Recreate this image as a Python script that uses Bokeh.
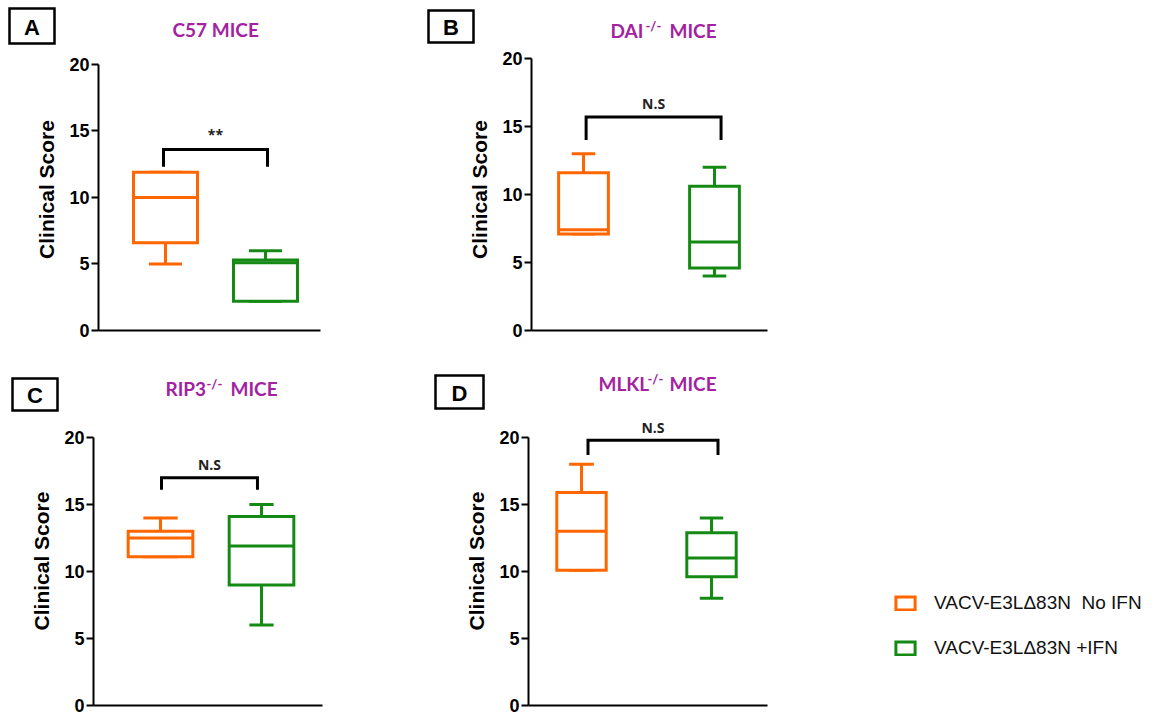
from bokeh.plotting import figure
from bokeh.layouts import row, column
from bokeh.models import Range1d, FixedTicker, Legend, LegendItem, ColumnDataSource
from bokeh.core.properties import value
from bokeh.embed import file_html
from bokeh.resources import INLINE

# ---------------- data ----------------
groups = ["VACV-E3L\u039483N  No IFN", "VACV-E3L\u039483N +IFN"]
colors = ["#FF6600", "#148A14"]
y_ticks = [0, 5, 10, 15, 20]

# Panel A: C57 mice
a_min = [5.0, 2.2]
a_q1 = [6.6, 2.2]
a_med = [10.0, 5.1]
a_q3 = [11.9, 5.3]
a_max = [11.9, 6.0]
a_sig = "**"
a_bracket = [13.6, 12.3]   # bar level, end level

# Panel B: DAI-/- mice
b_min = [7.1, 4.0]
b_q1 = [7.1, 4.6]
b_med = [7.4, 6.5]
b_q3 = [11.6, 10.6]
b_max = [13.0, 12.0]
b_sig = "N.S"
b_bracket = [15.7, 14.0]

# Panel C: RIP3-/- mice
c_min = [11.1, 6.0]
c_q1 = [11.1, 9.0]
c_med = [12.5, 11.9]
c_q3 = [13.0, 14.1]
c_max = [14.0, 15.0]
c_sig = "N.S"
c_bracket = [17.0, 16.1]

# Panel D: MLKL-/- mice
d_min = [10.1, 8.0]
d_q1 = [10.1, 9.6]
d_med = [13.0, 11.0]
d_q3 = [15.9, 12.9]
d_max = [18.0, 14.0]
d_sig = "N.S"
d_bracket = [19.8, 18.7]

panel_letters = ["A", "B", "C", "D"]

PURPLE = "#A3229F"
TITLE_FONT = "Lato"
AX_FONT = "Liberation Sans"
TOTAL_W = 1166
TOTAL_H = 716
TOP_STRIP = (0, 46)      # page y0, height
BOT_STRIP = (372, 42)


def make_panel(geom, stats, sig, bracket):
    fx, fy, fw, fh, ax_x, ax_end, y0, y20, c1, c2 = geom["g"]
    top = fy + 2
    left = ax_x - fx
    right = fx + fw - ax_end
    bottom = fy + fh - y0
    frame_w = ax_end - ax_x
    frame_h = y0 - top
    ys = (y0 - y20) / 20.0
    xs = float(c2 - c1)
    x_start = 1 - (c1 - ax_x) / xs
    p = figure(width=fw, height=fh,
               x_range=Range1d(x_start, x_start + frame_w / xs),
               y_range=Range1d(0, frame_h / ys),
               output_backend="svg", toolbar_location=None,
               min_border_left=left, min_border_right=right,
               min_border_top=top - fy, min_border_bottom=bottom)
    p.outline_line_color = None
    p.grid.visible = False

    p.xaxis.ticker = FixedTicker(ticks=[])
    p.xaxis.axis_line_width = 2
    p.xaxis.axis_line_color = "black"
    p.xaxis.major_tick_line_color = None
    p.xaxis.minor_tick_line_color = None
    p.xaxis.major_label_text_font_size = "0px"

    ya = p.yaxis[0]
    ya.ticker = FixedTicker(ticks=y_ticks)
    ya.bounds = (0, 20)
    ya.axis_line_width = 2
    ya.axis_line_color = "black"
    ya.major_tick_line_width = 2
    ya.major_tick_line_color = "black"
    ya.major_tick_out = 7
    ya.major_tick_in = 0
    ya.minor_tick_line_color = None
    ya.major_label_text_font = AX_FONT
    ya.major_label_text_font_style = "bold"
    ya.major_label_text_font_size = "18px"
    ya.major_label_text_color = "black"
    ya.major_label_standoff = 2
    ya.axis_label = "Clinical Score"
    ya.axis_label_text_font = AX_FONT
    ya.axis_label_text_font_style = "bold"
    ya.axis_label_text_font_size = "21px"
    ya.axis_label_text_color = "black"
    ya.axis_label_standoff = 8

    mins, q1s, meds, q3s, maxs = stats
    bw = geom["bw"]
    cws = geom["cw"]
    for i in range(2):
        x = i + 1
        cw = cws[i]
        src = ColumnDataSource(dict(
            x0=[x, x, x - cw / 2, x - cw / 2],
            x1=[x, x, x + cw / 2, x + cw / 2],
            y0=[q3s[i], q1s[i], maxs[i], mins[i]],
            y1=[maxs[i], mins[i], maxs[i], mins[i]]))
        p.segment(x0="x0", y0="y0", x1="x1", y1="y1", source=src,
                  line_color=colors[i], line_width=3)
        p.quad(left=[x - bw / 2], right=[x + bw / 2], bottom=[q1s[i]], top=[q3s[i]],
               fill_color="white", line_color=colors[i], line_width=3,
               line_join="miter")
        p.segment(x0=[x - bw / 2], x1=[x + bw / 2], y0=[meds[i]], y1=[meds[i]],
                  line_color=colors[i], line_width=3)

    bx0, bx1 = geom["bx"]
    blev, bend = bracket
    p.line(x=[bx0, bx0, bx1, bx1], y=[bend, blev, blev, bend],
           line_color="black", line_width=3, line_join="miter")
    p.text(x=[(bx0 + bx1) / 2], y=[blev + geom["ty"]], text=[sig],
           text_align="center", text_baseline="bottom",
           text_font=value("Open Sans"), text_font_style="bold",
           text_font_size="14px", text_color="#222222")
    return p


def make_strip(strip, titles, letters):
    # pixel-space strip: data x = page x, data y = page y
    sy0, sh = strip
    s = figure(width=TOTAL_W, height=sh,
               x_range=Range1d(0, TOTAL_W), y_range=Range1d(sy0 + sh, sy0),
               output_backend="svg", toolbar_location=None,
               x_axis_type=None, y_axis_type=None, min_border=0)
    s.outline_line_color = None
    s.grid.visible = False
    for (txt, px, py, size) in titles:
        s.text(x=[px], y=[py], text=[txt], text_font=value(TITLE_FONT),
               text_font_style="bold", text_font_size=size, text_color=PURPLE,
               text_align="left", text_baseline="middle")
    for (txt, px, py, w, h) in letters:
        s.rect(x=[px], y=[py], width=[w], height=[h], fill_color="white",
               line_color="black", line_width=2.5, line_join="miter")
        s.text(x=[px], y=[py + 1], text=[txt], text_font=value(AX_FONT),
               text_font_style="bold", text_font_size="22px", text_color="black",
               text_align="center", text_baseline="middle")
    return s


strip_top = make_strip(TOP_STRIP,
                       [("C57 MICE", 172, 29, "19px"),
                        ("DAI", 610, 30, "19px"),
                        ("-/-", 645, 25, "13px"),
                        ("MICE", 669, 30, "19px")],
                       [(panel_letters[0], 31.5, 25.5, 45, 35),
                        (panel_letters[1], 450.5, 26, 45, 32)])
strip_bot = make_strip(BOT_STRIP,
                       [("RIP3", 165, 388, "19px"),
                        ("-/-", 206, 383, "13px"),
                        ("MICE", 230, 388, "19px"),
                        ("MLKL", 598, 383, "19px"),
                        ("-/-", 647, 378, "13px"),
                        ("MICE", 669, 383, "19px")],
                       [(panel_letters[2], 34.5, 394, 45, 32),
                        (panel_letters[3], 459, 391.5, 48, 33)])

top_y = TOP_STRIP[0] + TOP_STRIP[1]
top_h = BOT_STRIP[0] - top_y
bot_y = BOT_STRIP[0] + BOT_STRIP[1]
bot_h = TOTAL_H - bot_y

pA = make_panel(
    dict(g=(0, top_y, 420, top_h, 98, 320, 333, 64, 165, 265), bw=0.64, cw=[0.33, 0.33],
         bx=(0.98, 2.02), ty=0.45),
    (a_min, a_q1, a_med, a_q3, a_max), a_sig, a_bracket)

pB = make_panel(
    dict(g=(420, top_y, 380, top_h, 531, 767, 330, 58, 583, 714), bw=0.38, cw=[0.18, 0.18],
         bx=(1.02, 2.05), ty=0.3),
    (b_min, b_q1, b_med, b_q3, b_max), b_sig, b_bracket)

pC = make_panel(
    dict(g=(0, bot_y, 420, bot_h, 93, 322, 705, 437, 160, 261), bw=0.64, cw=[0.34, 0.24],
         bx=(1.01, 1.96), ty=0.3),
    (c_min, c_q1, c_med, c_q3, c_max), c_sig, c_bracket)

pD = make_panel(
    dict(g=(420, bot_y, 380, bot_h, 528, 767, 705, 437, 581, 711), bw=0.38, cw=[0.19, 0.18],
         bx=(1.05, 2.05), ty=0.25),
    (d_min, d_q1, d_med, d_q3, d_max), d_sig, d_bracket)

# legend panel
pL = figure(width=TOTAL_W - 800, height=bot_h, x_range=Range1d(0, 1), y_range=Range1d(0, 1),
            output_backend="svg", toolbar_location=None,
            x_axis_type=None, y_axis_type=None, min_border=0)
pL.outline_line_color = None
pL.grid.visible = False
items = []
for i in range(2):
    r = pL.quad(left=[5], right=[6], top=[6], bottom=[5], fill_color="white",
                line_color=colors[i], line_width=3, line_join="miter")
    items.append(LegendItem(label=groups[i], renderers=[r]))
leg = Legend(items=items, location=(93, 46), glyph_width=24, glyph_height=16,
             label_text_font=AX_FONT, label_text_font_size="19px",
             label_text_color="#111111", label_standoff=17, spacing=23,
             padding=0, margin=0, border_line_color=None, background_fill_alpha=0)
pL.add_layout(leg)

layout = column(strip_top, row(pA, pB), strip_bot, row(pC, pD, pL))
open("out.html", "w").write(file_html(layout, INLINE))
